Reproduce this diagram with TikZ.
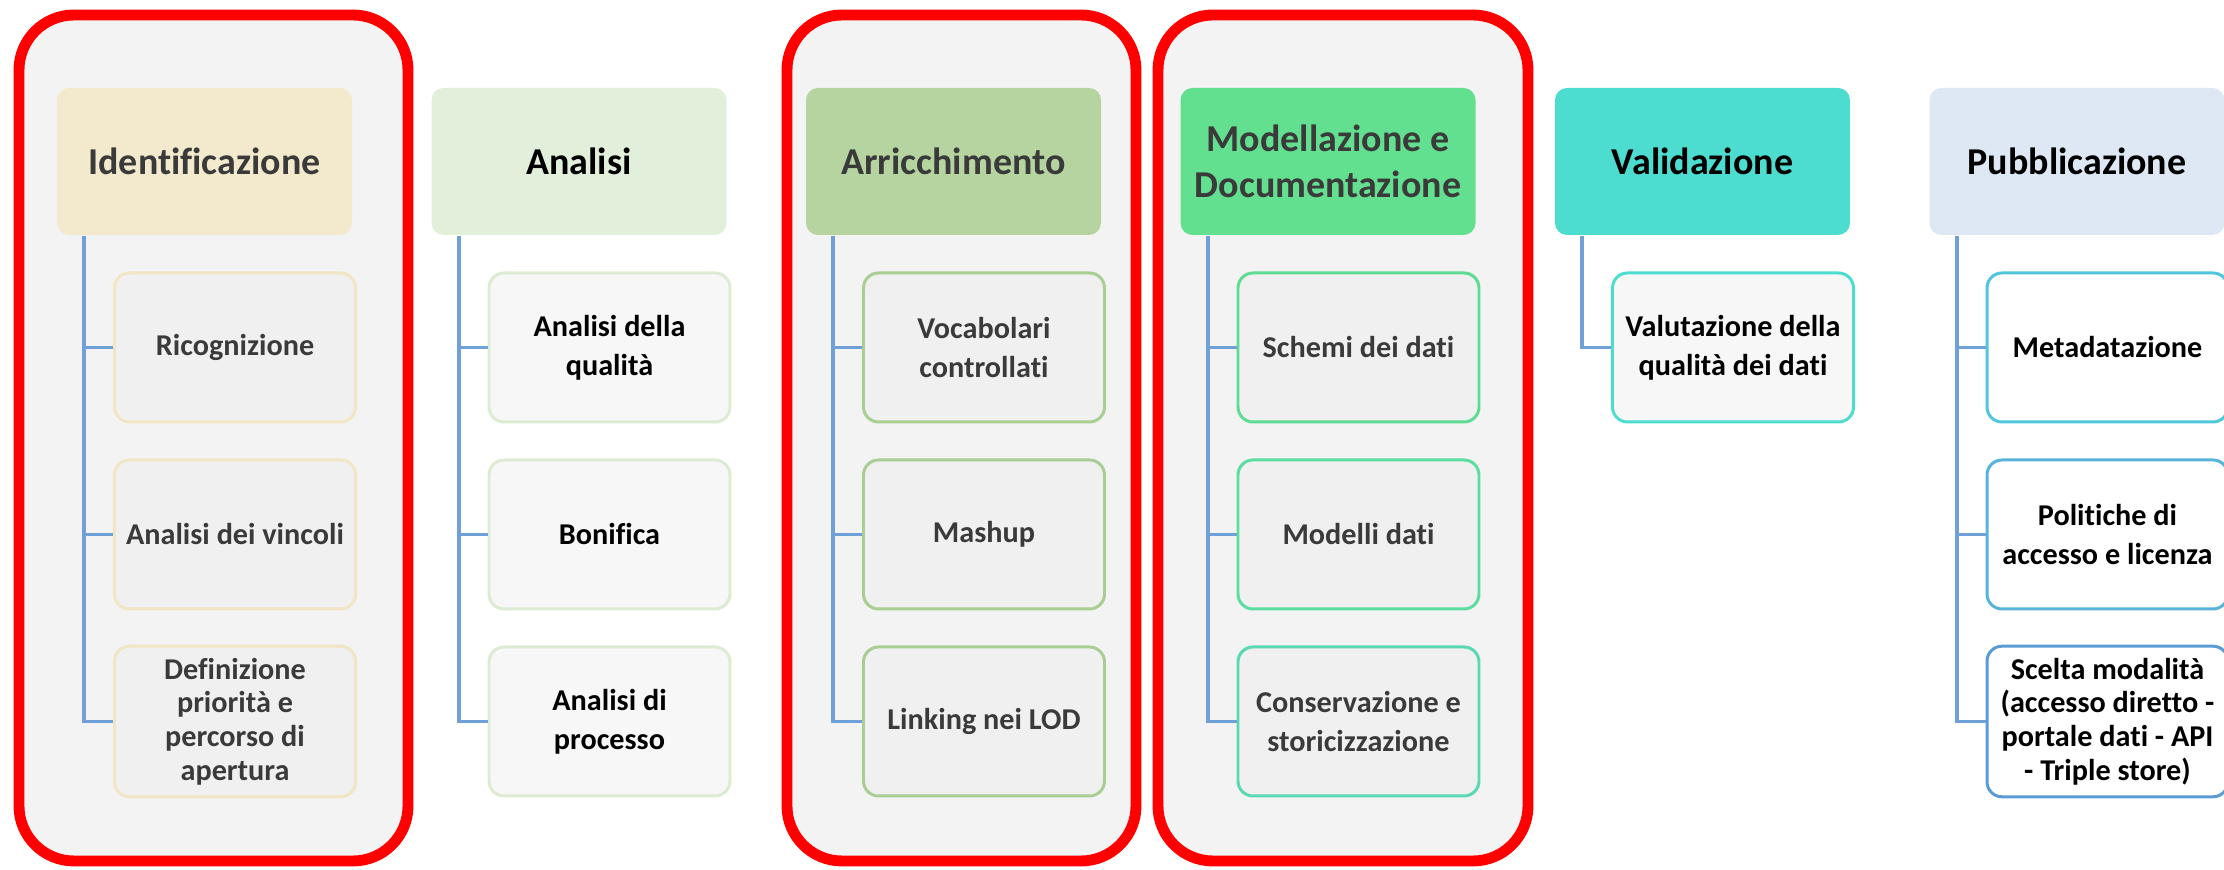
\documentclass[tikz,border=0pt]{standalone}
\usepackage{fontspec}
\setmainfont{Carlito}[Ligatures=NoCommon]
\usepackage{xcolor}
\usetikzlibrary{positioning,calc}
\definecolor{boxred}{HTML}{FF0000}
\definecolor{groupgray}{HTML}{F3F3F3}
\definecolor{treeblue}{HTML}{6FA0D8}
\definecolor{txtgray}{HTML}{3A3A3A}
\definecolor{identfill}{HTML}{F3EACD}
\definecolor{identline}{HTML}{F2E5C4}
\definecolor{analfill}{HTML}{E2EFDA}
\definecolor{analline}{HTML}{DCEBD2}
\definecolor{arrfill}{HTML}{B5D4A0}
\definecolor{arrline}{HTML}{A9CE92}
\definecolor{modfill}{HTML}{62E090}
\definecolor{modlineA}{HTML}{5EDC93}
\definecolor{modlineB}{HTML}{5CDDA0}
\definecolor{modlineC}{HTML}{5AD8B4}
\definecolor{valfill}{HTML}{4DDCD0}
\definecolor{pubfill}{HTML}{DDE8F4}
\definecolor{publineA}{HTML}{4FC6DB}
\definecolor{publineB}{HTML}{58B3DA}
\definecolor{publineC}{HTML}{5B9BD5}

\begin{document}
\begin{tikzpicture}[every node/.style={on grid,node distance=3.745cm},
    head/.style={fill=#1,rounded corners=0.12cm,minimum width=2.95cm,minimum height=1.47cm,
      align=center,font=\bfseries\fontsize{10.8}{13}\selectfont},
    sub/.style={draw=#1,line width=0.85pt,rounded corners=0.15cm,minimum width=2.41cm,
      minimum height=1.49cm,align=center,font=\bfseries\fontsize{8.6}{11}\selectfont},
    sub/.default=black,
    tight/.style={font=\bfseries\fontsize{8.6}{9.6}\selectfont},
    dim/.style={text=txtgray},
    tree/.style={draw=treeblue,line width=1.1pt},
    group/.style={draw=boxred,fill=groupgray,line width=3.1pt,rounded corners=0.55cm}]
  \useasboundingbox (0,0) rectangle (22.24,-8.70);
  % red frames
  \draw[group] (0.19,-0.15) rectangle (4.08,-8.61);
  \draw[group] (7.87,-0.15) rectangle (11.36,-8.61);
  \draw[group] (11.58,-0.15) rectangle (15.28,-8.61);
  % phases
  \node[head=identfill,dim] (Ident) at (2.045,-1.615) {Identificazione};
  \node[head=analfill,right=of Ident] (Anal) {Analisi};
  \node[head=arrfill,dim,right=of Anal] (Arr) {Arricchimento};
  \node[head=modfill,dim,right=of Arr] (Mod) {Modellazione e\\Documentazione};
  \node[head=valfill,right=of Mod] (Val) {Validazione};
  \node[head=pubfill,right=of Val] (Pub) {Pubblicazione};
  % activities
  \node[sub=identline,fill=black!6,dim,below right=1.86cm and 0.305cm of Ident] (Ric) {Ricognizione};
  \node[sub=identline,fill=black!6,dim,below=1.87cm of Ric] (Vinc) {Analisi dei vincoli};
  \node[sub=identline,fill=black!6,dim,tight,below=1.87cm of Vinc] (Prior) {Definizione\\priorità e\\percorso di\\apertura};
  \node[sub=analline,fill=black!3,below right=1.86cm and 0.305cm of Anal] (Qual) {Analisi della\\qualità};
  \node[sub=analline,fill=black!3,below=1.87cm of Qual] (Bon) {Bonifica};
  \node[sub=analline,fill=black!3,below=1.87cm of Bon] (Proc) {Analisi di\\processo};
  \node[sub=arrline,fill=black!6,dim,below right=1.86cm and 0.305cm of Arr] (Voc) {Vocabolari\\controllati};
  \node[sub=arrline,fill=black!6,dim,below=1.87cm of Voc] (Mash) {Mashup};
  \node[sub=arrline,fill=black!6,dim,below=1.87cm of Mash] (Lod) {Linking nei LOD};
  \node[sub=modlineA,fill=black!6,dim,below right=1.86cm and 0.305cm of Mod] (Schemi) {Schemi dei dati};
  \node[sub=modlineB,fill=black!6,dim,below=1.87cm of Schemi] (Modelli) {Modelli dati};
  \node[sub=modlineC,fill=black!6,dim,below=1.87cm of Modelli] (Cons) {Conservazione e\\storicizzazione};
  \node[sub=valfill,fill=black!3,below right=1.86cm and 0.305cm of Val] (Valut) {Valutazione della\\qualità dei dati};
  \node[sub=publineA,fill=white,below right=1.86cm and 0.305cm of Pub] (Meta) {Metadatazione};
  \node[sub=publineB,fill=white,below=1.87cm of Meta] (Lic) {Politiche di\\accesso e licenza};
  \node[sub=publineC,fill=white,tight,below=1.87cm of Lic] (Scelta) {Scelta modalità\\(accesso diretto -\\portale dati - API\\- Triple store)};
  % tree lines
  \draw[tree] ($(Ident.south west)+(0.28,0)$) |- (Ric.west);
  \draw[tree] ($(Ident.south west)+(0.28,0)$) |- (Vinc.west);
  \draw[tree] ($(Ident.south west)+(0.28,0)$) |- (Prior.west);
  \draw[tree] ($(Anal.south west)+(0.28,0)$) |- (Qual.west);
  \draw[tree] ($(Anal.south west)+(0.28,0)$) |- (Bon.west);
  \draw[tree] ($(Anal.south west)+(0.28,0)$) |- (Proc.west);
  \draw[tree] ($(Arr.south west)+(0.28,0)$) |- (Voc.west);
  \draw[tree] ($(Arr.south west)+(0.28,0)$) |- (Mash.west);
  \draw[tree] ($(Arr.south west)+(0.28,0)$) |- (Lod.west);
  \draw[tree] ($(Mod.south west)+(0.28,0)$) |- (Schemi.west);
  \draw[tree] ($(Mod.south west)+(0.28,0)$) |- (Modelli.west);
  \draw[tree] ($(Mod.south west)+(0.28,0)$) |- (Cons.west);
  \draw[tree] ($(Val.south west)+(0.28,0)$) |- (Valut.west);
  \draw[tree] ($(Pub.south west)+(0.28,0)$) |- (Meta.west);
  \draw[tree] ($(Pub.south west)+(0.28,0)$) |- (Lic.west);
  \draw[tree] ($(Pub.south west)+(0.28,0)$) |- (Scelta.west);
\end{tikzpicture}
\end{document}
